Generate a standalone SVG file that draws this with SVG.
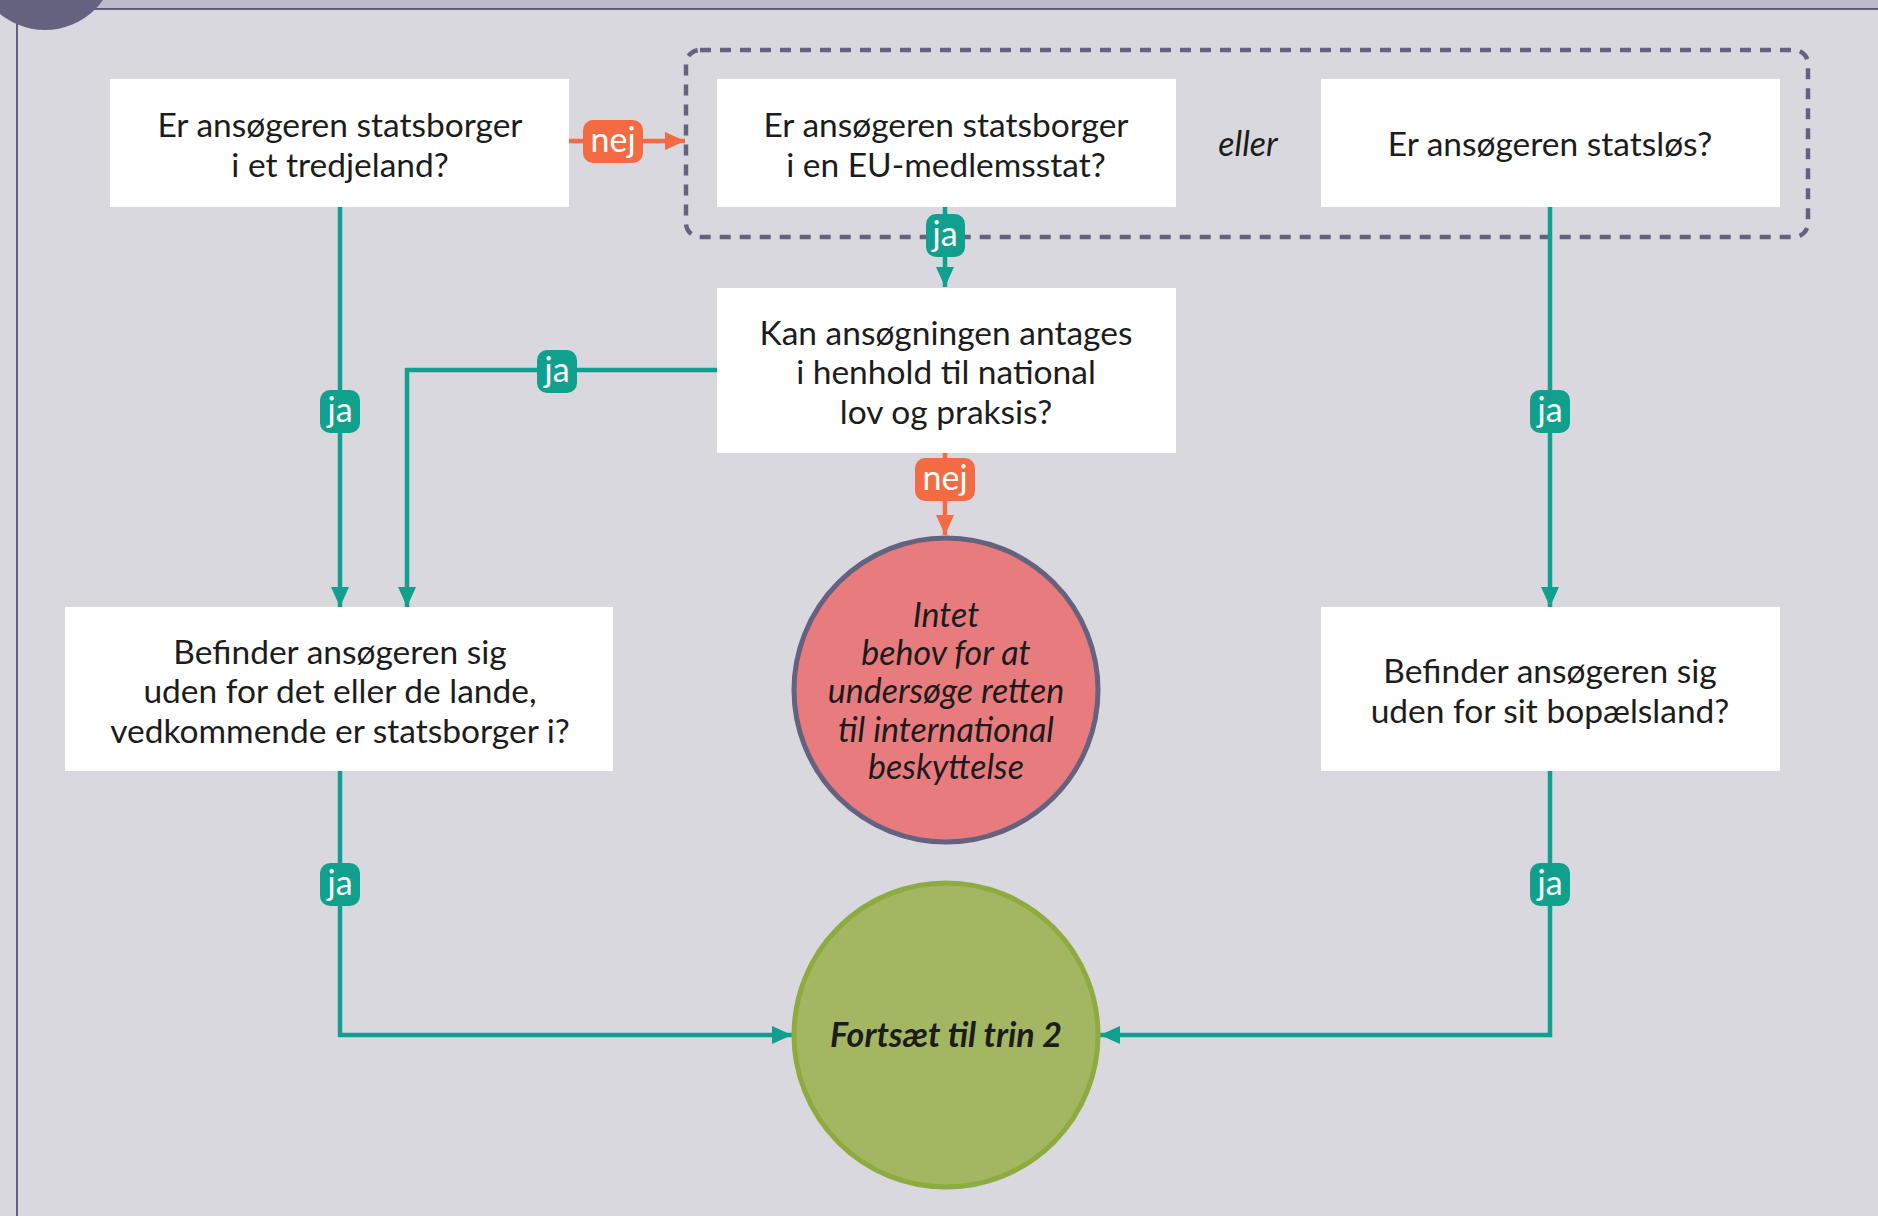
<svg xmlns="http://www.w3.org/2000/svg" width="1878" height="1216" viewBox="0 0 1878 1216">
<style>
  .box { fill: #ffffff; }
  .t { font-family: Lato, "Open Sans", sans-serif; font-size: 33.5px; fill: #1c1c1c; text-anchor: middle; }
  .ti { font-family: Lato, "Open Sans", sans-serif; font-size: 34px; font-style: italic; fill: #1c1c1c; text-anchor: middle; }
  .tl { fill: none; stroke: #12a08e; stroke-width: 4.5; }
  .ol { fill: none; stroke: #f26b43; stroke-width: 4.5; }
  .pj { fill: #12a08e; }
  .pn { fill: #f26b43; }
  .lt { font-family: Lato, "Open Sans", sans-serif; font-size: 34px; fill: #ffffff; text-anchor: middle; }
</style>
<defs>
  <marker id="at" markerUnits="userSpaceOnUse" markerWidth="22" markerHeight="18" refX="20" refY="9" orient="auto">
    <path d="M0,0 L20,9 L0,18 Z" fill="#12a08e"/>
  </marker>
  <marker id="ao" markerUnits="userSpaceOnUse" markerWidth="22" markerHeight="18" refX="20" refY="9" orient="auto">
    <path d="M0,0 L20,9 L0,18 Z" fill="#f26b43"/>
  </marker>
</defs>

<rect x="0" y="0" width="1878" height="1216" fill="#d9d8df"/>
<rect x="0" y="0" width="1878" height="9" fill="#bdbacb"/>
<line x1="0" y1="9" x2="1878" y2="9" stroke="#3a375e" stroke-width="1.5"/>
<line x1="17" y1="9" x2="17" y2="1216" stroke="#3a375e" stroke-width="1.5"/>
<circle cx="45" cy="-41" r="71" fill="#64627e"/>

<g id="group-eu-stateless">
  <rect x="686" y="50" width="1122" height="187" rx="14" fill="none" stroke="#64627e" stroke-width="4.5" stroke-dasharray="11 9"/>
  <text class="ti" x="1248" y="156">eller</text>
</g>

<g id="connectors">
  <path class="ol" d="M569,141 L685,141" marker-end="url(#ao)"/>
  <path class="tl" d="M945,207 L945,287" marker-end="url(#at)"/>
  <path class="tl" d="M340,207 L340,607" marker-end="url(#at)"/>
  <path class="tl" d="M717,370 L407,370 L407,607" marker-end="url(#at)"/>
  <path class="ol" d="M945,453 L945,535" marker-end="url(#ao)"/>
  <path class="tl" d="M1550,207 L1550,607" marker-end="url(#at)"/>
  <path class="tl" d="M340,771 L340,1035 L792,1035" marker-end="url(#at)"/>
  <path class="tl" d="M1550,771 L1550,1035 L1100,1035" marker-end="url(#at)"/>

  <rect class="pn" x="583" y="120" width="60" height="43" rx="10"/>
  <text class="lt" x="613" y="152">nej</text>
  <rect class="pj" x="926" y="214" width="39" height="43" rx="10"/>
  <text class="lt" x="945" y="246">ja</text>
  <rect class="pj" x="320" y="390" width="40" height="43" rx="10"/>
  <text class="lt" x="340" y="422">ja</text>
  <rect class="pj" x="537" y="350" width="40" height="43" rx="10"/>
  <text class="lt" x="557" y="382">ja</text>
  <rect class="pn" x="915" y="458" width="60" height="43" rx="10"/>
  <text class="lt" x="945" y="490">nej</text>
  <rect class="pj" x="1530" y="390" width="40" height="43" rx="10"/>
  <text class="lt" x="1550" y="422">ja</text>
  <rect class="pj" x="320" y="863" width="40" height="43" rx="10"/>
  <text class="lt" x="340" y="895">ja</text>
  <rect class="pj" x="1530" y="863" width="40" height="43" rx="10"/>
  <text class="lt" x="1550" y="895">ja</text>
</g>

<g id="node-tredjeland">
  <rect class="box" x="110" y="79" width="459" height="128"/>
  <text class="t" x="340" y="137">Er ansøgeren statsborger</text>
  <text class="t" x="340" y="177">i et tredjeland?</text>
</g>

<g id="node-eu">
  <rect class="box" x="717" y="79" width="459" height="128"/>
  <text class="t" x="946" y="137">Er ansøgeren statsborger</text>
  <text class="t" x="946" y="177">i en EU-medlemsstat?</text>
</g>

<g id="node-statslos">
  <rect class="box" x="1321" y="79" width="459" height="128"/>
  <text class="t" x="1550" y="156">Er ansøgeren statsløs?</text>
</g>

<g id="node-national">
  <rect class="box" x="717" y="288" width="459" height="165"/>
  <text class="t" x="946" y="345">Kan ansøgningen antages</text>
  <text class="t" x="946" y="384">i henhold til national</text>
  <text class="t" x="946" y="424">lov og praksis?</text>
</g>

<g id="node-uden-stat">
  <rect class="box" x="65" y="607" width="548" height="164"/>
  <text class="t" x="340" y="664">Befinder ansøgeren sig</text>
  <text class="t" x="340" y="703">uden for det eller de lande,</text>
  <text class="t" x="340" y="743">vedkommende er statsborger i?</text>
</g>

<g id="node-uden-bopael">
  <rect class="box" x="1321" y="607" width="459" height="164"/>
  <text class="t" x="1550" y="683">Befinder ansøgeren sig</text>
  <text class="t" x="1550" y="723">uden for sit bopælsland?</text>
</g>

<g id="node-intet">
  <circle cx="946" cy="690" r="152" fill="#e87b7e" stroke="#64627e" stroke-width="5"/>
  <text class="ti" x="946" y="627">Intet</text>
  <text class="ti" x="946" y="665">behov for at</text>
  <text class="ti" x="946" y="703">undersøge retten</text>
  <text class="ti" x="946" y="742">til international</text>
  <text class="ti" x="946" y="779">beskyttelse</text>
</g>

<g id="node-trin2">
  <circle cx="946" cy="1035" r="152" fill="#a3b662" stroke="#8eab3f" stroke-width="5"/>
  <text class="ti" x="946" y="1047" font-weight="bold">Fortsæt til trin 2</text>
</g>
</svg>
